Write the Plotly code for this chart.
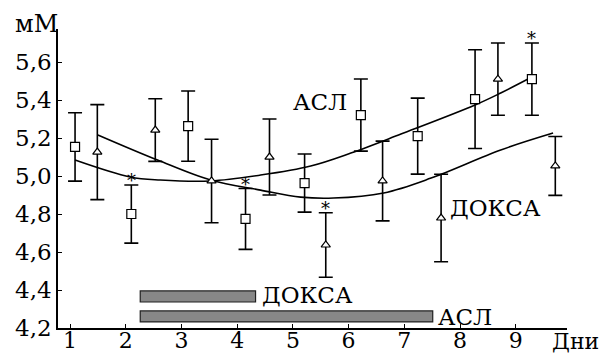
import plotly.graph_objects as go

# --- data ---
days_ticks = [1, 2, 3, 4, 5, 6, 7, 8, 9]
y_ticks = [4.2, 4.4, 4.6, 4.8, 5.0, 5.2, 5.4, 5.6]
y_tick_labels = ["4,2", "4,4", "4,6", "4,8", "5,0", "5,2", "5,4", "5,6"]

asl_x = [1.09, 2.10, 3.12, 4.15, 5.21, 6.22, 7.24, 8.27, 9.29]
asl_y = [5.153, 4.80, 5.263, 4.774, 4.963, 5.321, 5.21, 5.405, 5.51]
asl_err = [0.18, 0.153, 0.185, 0.16, 0.153, 0.19, 0.20, 0.26, 0.19]
asl_star = [False, True, False, True, False, False, False, False, True]

doxa_x = [1.49, 2.53, 3.54, 4.58, 5.59, 6.61, 7.66, 8.68, 9.71]
doxa_y = [5.126, 5.242, 4.974, 5.10, 4.637, 4.974, 4.779, 5.51, 5.053]
doxa_err = [0.25, 0.165, 0.22, 0.20, 0.17, 0.21, 0.23, 0.19, 0.155]
doxa_star = [False, False, False, False, True, False, False, False, False]

# fitted trend curves
asl_fit_x = [1.09, 2.08, 2.62, 3.52, 4.42, 5.32, 6.04, 6.94, 8.27, 8.73, 9.29]
asl_fit_y = [5.084, 4.995, 4.979, 4.974, 5.005, 5.053, 5.121, 5.221, 5.374, 5.437, 5.521]
doxa_fit_x = [1.50, 2.57, 3.52, 4.42, 5.14, 5.73, 6.63, 7.48, 8.73, 9.67]
doxa_fit_y = [5.216, 5.084, 4.979, 4.926, 4.889, 4.884, 4.911, 4.989, 5.137, 5.226]

# treatment periods (horizontal bars)
period_names = ["ДОКСА", "АСЛ"]
period_start = [2.26, 2.26]
period_end = [4.33, 7.51]
period_level = [4.366, 4.261]

FONT = "DejaVu Serif"

fig = go.Figure()

fig.add_trace(go.Bar(
    orientation="h",
    y=period_level,
    x=[e - s for s, e in zip(period_start, period_end)],
    base=period_start,
    width=0.058,
    marker=dict(color="#878787", line=dict(color="#202020", width=1.2)),
    showlegend=False, hoverinfo="skip",
))

fig.add_trace(go.Scatter(x=asl_fit_x, y=asl_fit_y, mode="lines",
                         line=dict(color="black", width=1.6, shape="spline"),
                         showlegend=False))
fig.add_trace(go.Scatter(x=doxa_fit_x, y=doxa_fit_y, mode="lines",
                         line=dict(color="black", width=1.6, shape="spline"),
                         showlegend=False))

fig.add_trace(go.Scatter(
    x=asl_x, y=asl_y, mode="markers",
    marker=dict(symbol="square", size=9, color="white", line=dict(color="black", width=1.2)),
    error_y=dict(type="data", array=asl_err, visible=True, color="black", thickness=1.6, width=7),
    showlegend=False))
fig.add_trace(go.Scatter(
    x=doxa_x, y=doxa_y, mode="markers",
    marker=dict(symbol="triangle-up", size=8, color="white", line=dict(color="black", width=1.2)),
    error_y=dict(type="data", array=doxa_err, visible=True, color="black", thickness=1.6, width=7),
    showlegend=False))

annotations = []
for xs, ys, es, flags in [(asl_x, asl_y, asl_err, asl_star), (doxa_x, doxa_y, doxa_err, doxa_star)]:
    for x, y, e, f in zip(xs, ys, es, flags):
        if f:
            annotations.append(dict(x=x, y=y + e, text="*", showarrow=False,
                                    xanchor="center", yanchor="bottom", yshift=-8,
                                    font=dict(family=FONT, size=18, color="black")))

lab_font = dict(family=FONT, size=23, color="black")
annotations += [
    dict(x=5.48, y=5.389, text="АСЛ", showarrow=False, font=lab_font),
    dict(x=8.63, y=4.832, text="ДОКСА", showarrow=False, font=lab_font),
    dict(x=period_end[0] + 0.08, y=period_level[0] + 0.01, text=period_names[0], showarrow=False,
         xanchor="left", font=lab_font),
    dict(x=period_end[1] + 0.05, y=period_level[1] - 0.004, text=period_names[1], showarrow=False,
         xanchor="left", font=lab_font),
    dict(x=0, y=1.0, xref="paper", yref="paper", text="мМ", showarrow=False,
         xanchor="right", yanchor="middle", xshift=2, yshift=5,
         font=dict(family=FONT, size=24, color="black")),
    dict(x=1, y=0, xref="paper", yref="paper", text="Дни", showarrow=False,
         xanchor="left", yanchor="bottom", xshift=-17, yshift=-28,
         font=dict(family=FONT, size=22, color="black")),
]

fig.update_layout(
    width=605, height=356,
    margin=dict(l=58, r=38, t=29, b=28),
    paper_bgcolor="white", plot_bgcolor="white",
    font=dict(family=FONT, size=22, color="black"),
    showlegend=False,
    annotations=annotations,
    xaxis=dict(range=[0.784, 9.92], tickvals=days_ticks, ticktext=[str(d) for d in days_ticks],
               showline=True, linecolor="black", linewidth=1.6, ticks="inside", ticklen=4,
               tickcolor="black", showgrid=False, zeroline=False, automargin=False,
               ticklabelstandoff=-8, tickfont=dict(family=FONT, size=22, color="black")),
    yaxis=dict(range=[4.2, 5.774], tickvals=y_ticks, ticktext=y_tick_labels,
               showline=True, linecolor="black", linewidth=1.6, ticks="inside", ticklen=4,
               tickcolor="black", showgrid=False, zeroline=False, automargin=False,
               tickfont=dict(family=FONT, size=23, color="black")),
)

fig.write_html("out.html")
